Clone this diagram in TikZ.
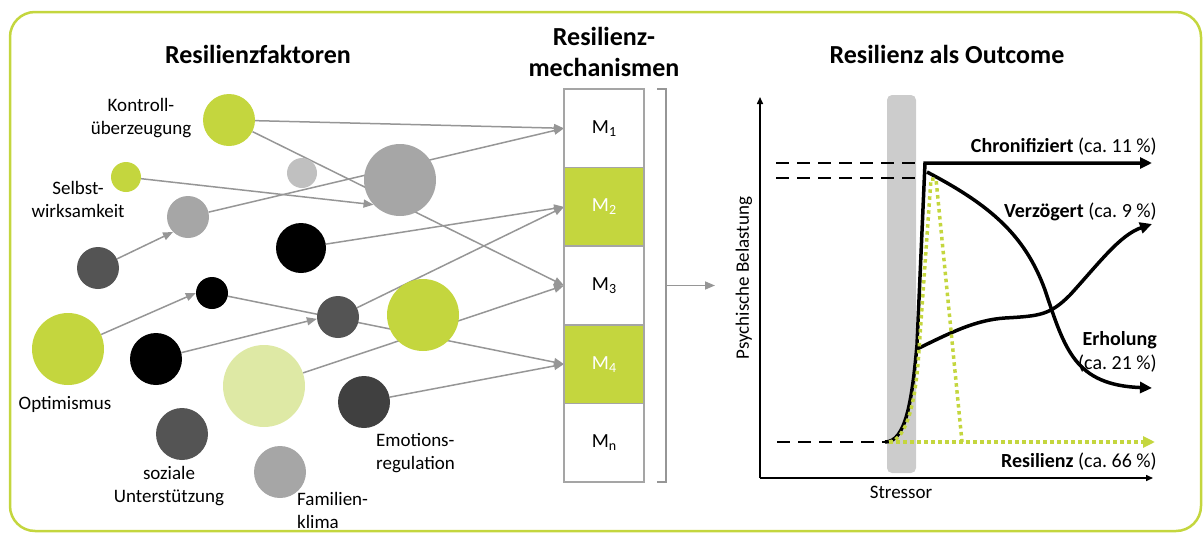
\documentclass[tikz,border=0pt]{standalone}
\usepackage{fontspec}
\setmainfont{Carlito}
\usepackage{tikz}
\usetikzlibrary{arrows.meta, positioning, backgrounds}

\definecolor{resgreen}{RGB}{196,214,62}
\definecolor{palegreen}{RGB}{222,233,165}
\definecolor{lgray}{RGB}{192,192,192}
\definecolor{mgray}{RGB}{166,166,166}
\definecolor{dgray}{RGB}{84,84,84}
\definecolor{ddgray}{RGB}{64,64,64}
\definecolor{linkgray}{RGB}{150,150,150}
\definecolor{boxgray}{RGB}{165,165,165}
\definecolor{bargray}{RGB}{204,204,204}

\newcommand{\msub}[1]{M\raisebox{-3pt}{\fontsize{14}{14}\selectfont #1}}

\tikzset{
    fac/.style={circle, inner sep=0pt, minimum size=#1},
    lbl/.style={font=\fontsize{19}{23}\selectfont, align=center, inner sep=0pt},
    ttl/.style={font=\bfseries\fontsize{26}{31}\selectfont, align=center, inner sep=0pt},
    link/.style={draw=linkgray, line width=1.5pt, -{Triangle[length=10pt,width=8pt]}},
    mech/.style={draw=boxgray, line width=1.5pt, minimum width=80pt, minimum height=78.6pt, inner sep=0pt, outer sep=0pt, font=\fontsize{20}{24}\selectfont},
    trend/.style={line width=3.5pt, -{Triangle[length=12pt,width=11pt]}},
    refdash/.style={line width=2.5pt, dash pattern=on 13pt off 8pt},
    resdot/.style={draw=resgreen, line width=3.5pt, dash pattern=on 3.5pt off 3.5pt},
    tag/.style={font=\fontsize{20}{24}\selectfont, anchor=east, inner sep=0pt, align=right}
}

\begin{document}
\begin{tikzpicture}[x=1pt, y=-1pt]
    \useasboundingbox (0,0) rectangle (1203,533);
    \draw[resgreen, line width=2.5pt, rounded corners=25pt] (10,12) rectangle (1201,531);

    % Resilienzfaktoren
    \node[ttl] (t1) at (258,54) {Resilienzfaktoren};

    \node[fac=52pt, fill=resgreen] at (229,120) (kontroll) {};
    \node[fac=30pt, fill=resgreen] at (126,177) (selbst) {};
    \node[fac=30pt, fill=lgray] at (302,173) (lgrayA) {};
    \node[fac=42pt, fill=mgray] at (188,217) (mgrayA) {};
    \node[fac=72pt, fill=mgray] at (400,180) (mgrayB) {};
    \node[fac=50pt, fill=black] at (301,248) (blackA) {};
    \node[fac=42pt, fill=dgray] at (98,268) (dgrayA) {};
    \node[fac=32pt, fill=black] at (212,293) (blackS) {};
    \node[fac=72pt, fill=resgreen] at (68,349) (optim) {};
    \node[fac=52pt, fill=black] at (156,359) (blackB) {};
    \node[fac=42pt, fill=dgray] at (338,317) (dgrayB) {};
    \node[fac=82pt, fill=palegreen] at (264,386) (lgreen) {};
    \node[fac=72pt, fill=resgreen] at (423,315) (greenB) {};
    \node[fac=52pt, fill=ddgray] at (364,402) (emo) {};
    \node[fac=52pt, fill=dgray] at (182,434) (sozial) {};
    \node[fac=52pt, fill=mgray] at (280,472) (familie) {};

    \node[lbl] (kontrolltxt) at (141,118) {Kontroll-\\überzeugung};
    \node[lbl] (selbsttxt) at (78,199) {Selbst-\\wirksamkeit};
    \node[lbl] (optimtxt) at (65,404) {Optimismus};
    \node[lbl] (sozialtxt) at (169,486) {soziale\\Unterstützung};
    \node[lbl, anchor=west, align=left] (familietxt) at (297,510) {Familien-\\klima};
    \node[lbl, anchor=west, align=left] (emotxt) at (376,453) {Emotions-\\regulation};

    % Resilienzmechanismen
    \node[ttl] (t2) at (604,52) {Resilienz-\\mechanismen};
    \node[mech] at (604,128.3) (m1) {\msub{1}};
    \node[mech, fill=resgreen, text=white, below=0pt of m1] (m2) {\msub{2}};
    \node[mech, below=0pt of m2] (m3) {\msub{3}};
    \node[mech, fill=resgreen, text=white, below=0pt of m3] (m4) {\msub{4}};
    \node[mech, below=0pt of m4] (mn) {\msub{n}};

    \begin{scope}[on background layer]
        \draw[link] (kontroll) -- (m1.west);
        \draw[link] (kontroll) -- (m3.west);
        \draw[link] (mgrayA) -- (m1.west);
        \draw[link] (selbst) -- (mgrayB.223);
        \draw[link] (dgrayA) -- (mgrayA.225);
        \draw[link] (blackA) -- (m2.west);
        \draw[link] (dgrayB) -- (m2.west);
        \draw[link] (optim) -- (blackS.180);
        \draw[link] (blackS) -- (m4.west);
        \draw[link] (blackB) -- (dgrayB.185);
        \draw[link] (lgreen) -- (m3.west);
        \draw[link] (emo) -- (m4.west);
    \end{scope}

    \draw[linkgray, line width=1.5pt] ([xshift=13pt]m1.north east) -| ([xshift=22pt]mn.south east) -- ([xshift=13pt]mn.south east);
    \coordinate (brk) at ([xshift=22pt]m3.east);
    \coordinate (chartin) at (715,285.5);
    \draw[link] (brk) -- (chartin);

    % Resilienz als Outcome
    \node[ttl] (t3) at (947,54) {Resilienz als Outcome};
    \fill[bargray, rounded corners=5pt] (887,95) rectangle (916,473);
    \coordinate (o) at (760,478);
    \coordinate (ytop) at (760,97);
    \coordinate (xend) at (1153,478);
    \draw[line width=1.5pt, -{Triangle[length=7pt,width=6pt]}] (o) -- (ytop);
    \draw[line width=1.5pt, -{Triangle[length=7pt,width=6pt]}] (o) -- (xend);
    \node[lbl, rotate=90] (ylab) at (744,278) {Psychische Belastung};
    \node[lbl] (xlab) at (901,492) {Stressor};

    \draw[refdash] (776,163) -- (917,163);
    \draw[refdash] (776,178) -- (917,178);
    \draw[refdash] (777,442) -- (885,442);

    \draw[trend] (885,442) .. controls (906,442) and (912,400) .. (917,345) -- (925,163) -- (1152,163);
    \draw[trend] (927,172) .. controls (990,205) and (1025,235) .. (1045,290) .. controls (1065,350) and (1075,385) .. (1152,388);
    \draw[trend] (917,349) .. controls (950,333) and (975,320) .. (1005,318) .. controls (1040,316) and (1050,315) .. (1070,295) .. controls (1100,262) and (1120,235) .. (1152,224);

    \draw[resdot] (889,442) .. controls (907,440) and (916,400) .. (919,350) -- (931,179) -- (936,179) -- (962,442);
    \draw[resdot, -{Triangle[length=12pt,width=11pt]}] (889,442) -- (1155,442);

    \node[tag] (chron) at (1157,147) {\textbf{Chronifiziert} (ca.~11~\%)};
    \node[tag] (verz) at (1157,212) {\textbf{Verzögert} (ca.~9~\%)};
    \node[tag] (erh) at (1157,352) {\textbf{Erholung}\\(ca.~21~\%)};
    \node[tag] (resil) at (1157,462) {\textbf{Resilienz} (ca.~66~\%)};
\end{tikzpicture}
\end{document}
